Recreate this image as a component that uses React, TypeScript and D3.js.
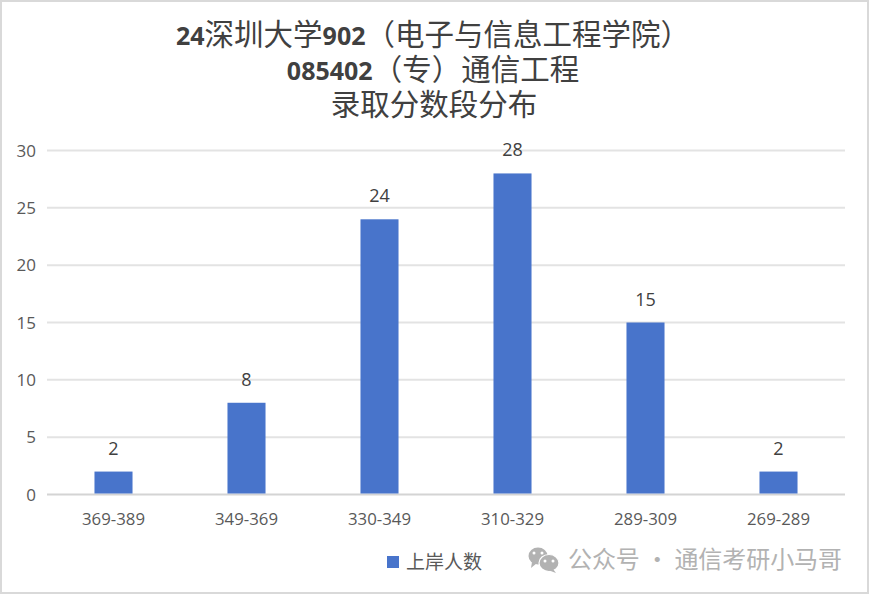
import React from "react";
import * as d3 from "d3";

const categories = ["369-389", "349-369", "330-349", "310-329", "289-309", "269-289"];
const values = [2, 8, 24, 28, 15, 2];
const yTicks = [0, 5, 10, 15, 20, 25, 30];
const seriesName = "上岸人数";
const watermark = "公众号 · 通信考研小马哥";

const W = 869, H = 594;
const sans = "'Open Sans','Noto Sans CJK SC',sans-serif";
const cjk = "'Noto Sans CJK SC',sans-serif";

export default function App() {
  const x = d3.scaleBand().domain(categories).range([47, 845]).paddingInner(0.714).paddingOuter(0.357);
  const y = d3.scaleLinear().domain([0, 30]).range([494.5, 150.5]);
  return (
    <svg width={W} height={H} viewBox={`0 0 ${W} ${H}`} style={{ position: "absolute", left: 0, top: 0, background: "#fff" }}>
      <rect x={1} y={1} width={W - 2} height={H - 2} fill="#fff" stroke="#d9d9d9" strokeWidth={2} />
      <g fill="#404040" textAnchor="middle" fontFamily={cjk}>
        <text x={433} y={45} fontSize={29.5}>
          <tspan fontFamily={sans} fontWeight={700} fontSize={25}>24</tspan>深圳大学<tspan fontFamily={sans} fontWeight={700} fontSize={25}>902</tspan>（电子与信息工程学院）
        </text>
        <text x={433} y={80} fontSize={29.5}>
          <tspan fontFamily={sans} fontWeight={700} fontSize={25}>085402</tspan>（专）通信工程
        </text>
        <text x={434} y={115} fontSize={29.5}>录取分数段分布</text>
      </g>
      {yTicks.map((t) => (
        <g key={t}>
          <line x1={47} x2={845} y1={y(t)} y2={y(t)} stroke={t === 0 ? "#d4d4d4" : "#e3e3e3"} strokeWidth={2} />
          <text x={36} y={y(t) + 6} textAnchor="end" fontFamily={sans} fontSize={17} fill="#595959">{t}</text>
        </g>
      ))}
      {categories.map((c, i) => (
        <g key={c}>
          <rect x={x(c)} y={y(values[i])} width={x.bandwidth()} height={y(0) - y(values[i]) - 1} fill="#4874cb" />
          <text x={x(c)! + x.bandwidth() / 2} y={y(values[i]) - 17} textAnchor="middle" fontFamily={sans} fontSize={18} fill="#404040">{values[i]}</text>
          <text x={x(c)! + x.bandwidth() / 2} y={525} textAnchor="middle" fontFamily={sans} fontSize={16.8} fill="#595959">{c}</text>
        </g>
      ))}
      <rect x={387} y={556} width={12} height={12} fill="#4874cb" />
      <text x={406} y={569} fontFamily={cjk} fontSize={19} fill="#595959">{seriesName}</text>
      <g fill="#b2b2b2">
        <ellipse cx={538} cy={556} rx={9.5} ry={8.5} />
        <path d={d3.line()([[532, 562], [531, 568], [537, 563]])!} />
        <ellipse cx={549} cy={563} rx={10} ry={8.5} stroke="#fff" strokeWidth={1.2} />
        <path d={d3.line()([[553, 569], [556, 573], [548, 570]])!} />
      </g>
      <g fill="#fff">
        {[[534, 553], [542, 553], [545, 561], [553, 561]].map(([a, b]) => <circle key={a} cx={a} cy={b} r={1.5} />)}
      </g>
      <text x={568} y={568} fontFamily={cjk} fontSize={24} fill="#b2b2b2" textLength={274}>{watermark}</text>
    </svg>
  );
}
